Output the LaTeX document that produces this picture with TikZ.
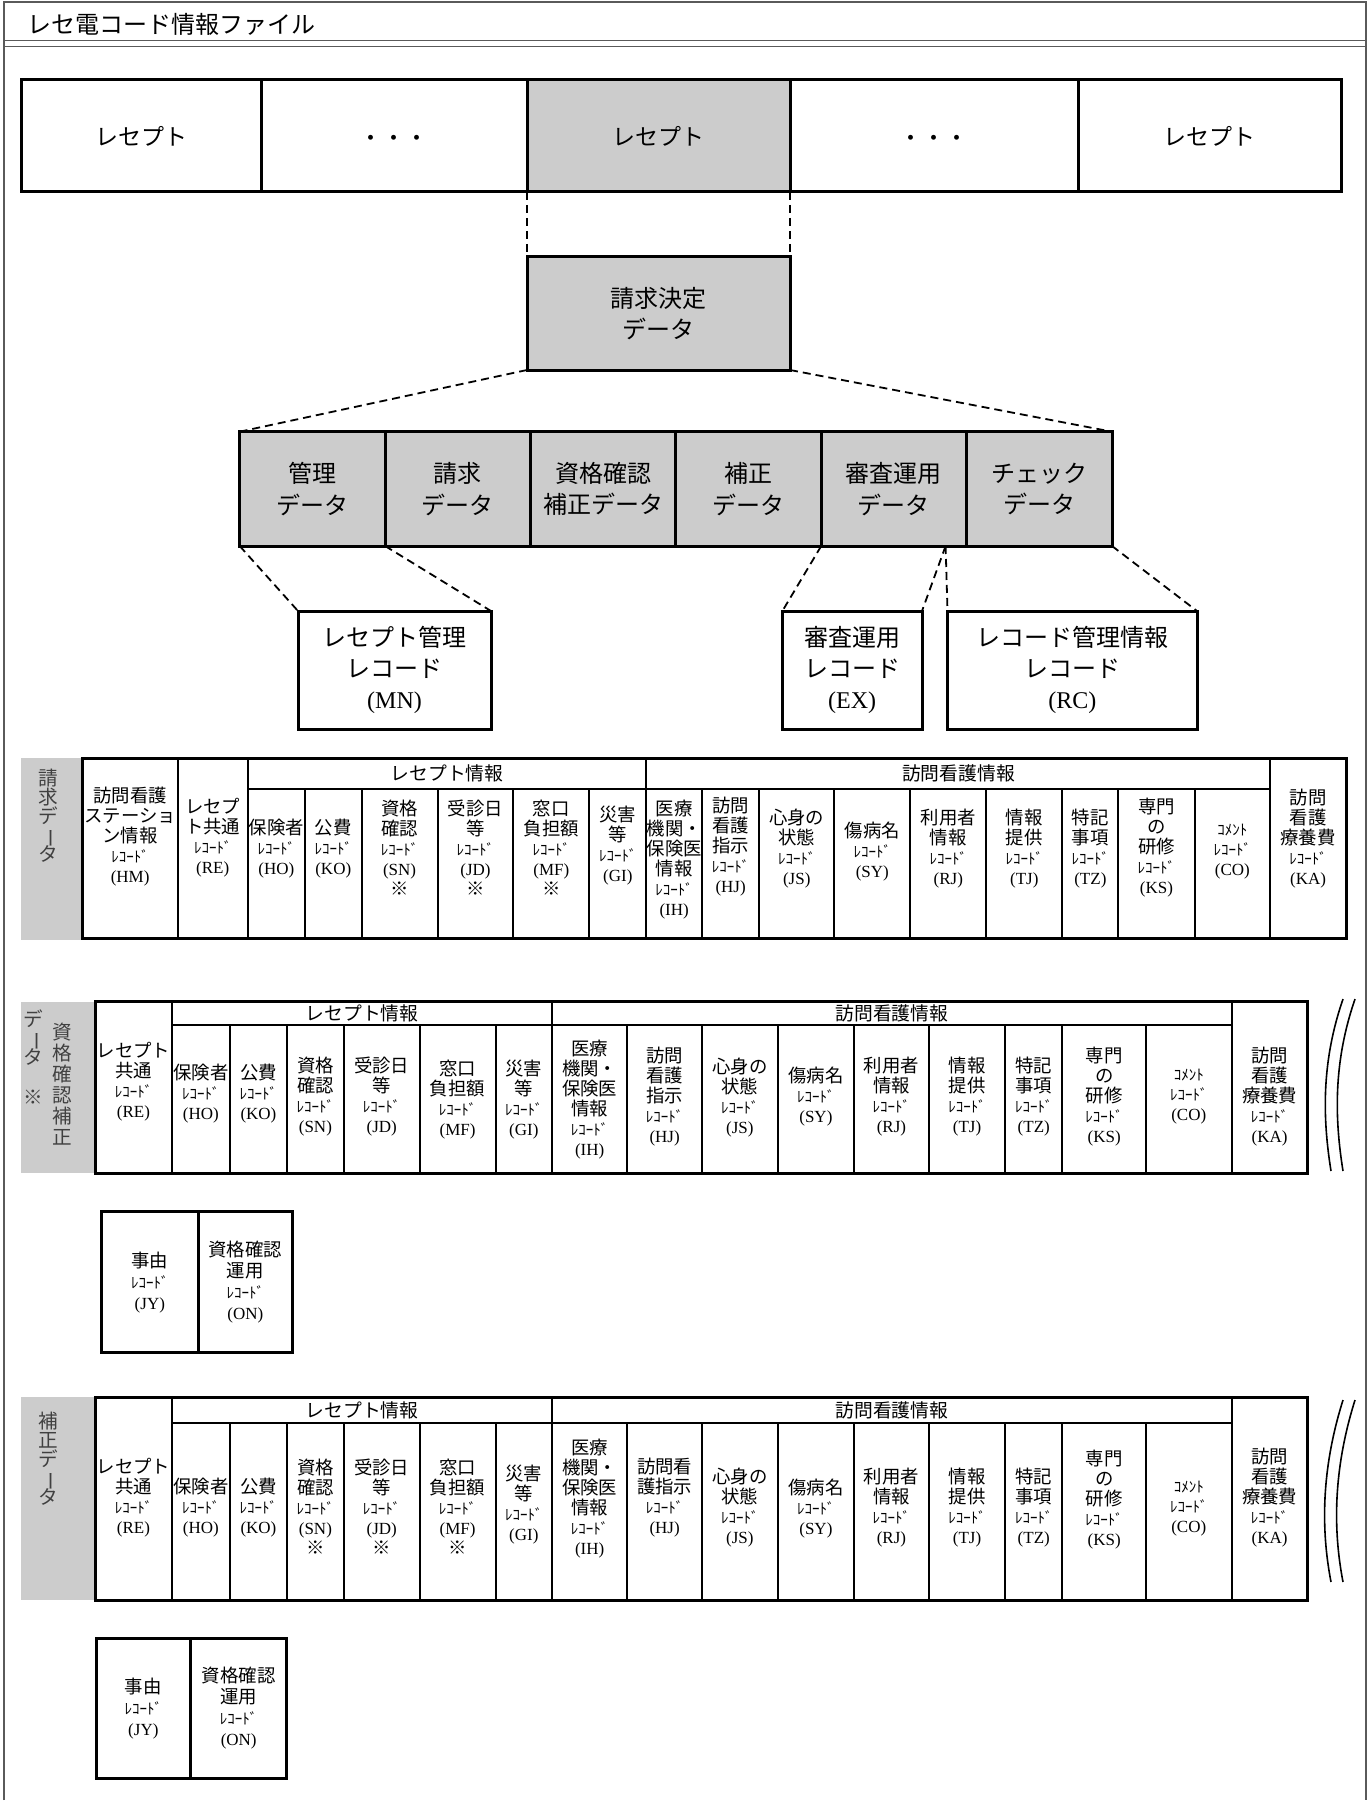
\documentclass[tikz,border=0pt]{standalone}
\usepackage{fontspec}
\setmainfont{Noto Sans CJK JP}
\newfontfamily\codefont{Liberation Serif}
\definecolor{boxgray}{HTML}{CCCCCC}
\definecolor{framegray}{HTML}{5A5A5A}
\newcommand{\reco}{{\fontsize{7.5}{10}\selectfont ﾚｺｰﾄﾞ}}
\newcommand{\codeid}[1]{{\codefont\fontsize{8.5}{10}\selectfont (#1)}}
\newcommand{\tatebar}{\rotatebox[origin=c]{-90}{ー}}
\newcommand{\tightlines}{\lineskiplimit=-5pt\lineskip=0pt}
\tikzstyle{every node}=[inner sep=0pt, outer sep=0pt]
\tikzstyle{frame}=[draw=framegray, line width=1.2pt]
\tikzstyle{box}=[draw, line width=1.5pt, align=center, font=\fontsize{12}{15.5}\selectfont]
\tikzstyle{rcpt}=[box, minimum height=56pt, font=\fontsize{11.5}{14}\selectfont]
\tikzstyle{part}=[box, fill=boxgray, minimum width=72.7pt, minimum height=57.15pt, font=\fontsize{12}{15.8}\selectfont]
\tikzstyle{rec}=[box, minimum height=59pt]
\tikzstyle{small}=[draw, line width=1.5pt, align=center, font=\fontsize{9.2}{10.5}\selectfont]
\tikzstyle{cell}=[align=center, font=\fontsize{9.2}{10}\selectfont]
\tikzstyle{head}=[font=\fontsize{9.4}{10}\selectfont]
\tikzstyle{side}=[align=center, text=black!75, font=\fontsize{9.8}{9.5}\selectfont\tightlines]
\tikzstyle{link}=[dash pattern=on 4pt off 2.5pt, line width=0.9pt]
\tikzstyle{grid}=[line width=1pt]
\tikzstyle{border}=[line width=1.5pt]
\tikzstyle{wave}=[line width=0.8pt]

\begin{document}
\begin{tikzpicture}[x=0.5pt, y=-0.5pt, line width=1pt]
\useasboundingbox (0,0) rectangle (1371,1803);
% Frame
    \draw[frame] (4,1800) -- (4,2) -- (1366,2) -- (1366,1800);
    \draw[frame, line width=0.8pt] (4,40.7) -- (1366,40.7);
    \draw[frame, line width=0.8pt] (4,46.7) -- (1366,46.7);
    \node[anchor=west, font=\fontsize{12}{14}\selectfont] (title) at (27,24) {レセ電コード情報ファイル};
% Receipts
    \node[rcpt, minimum width=119.8pt] (r1) at (141.2,136) {レセプト};
    \node[rcpt, minimum width=133pt] (r2) at (394,136) {};
    \node[rcpt, minimum width=131.5pt, fill=boxgray] (r3) at (658.5,136) {レセプト};
    \node[rcpt, minimum width=144pt] (r4) at (934,136) {};
    \node[rcpt, minimum width=131.5pt] (r5) at (1209.5,136) {レセプト};
    \node[font=\fontsize{11.5}{14}\selectfont] (dots2) at (394,141) {・・・};
    \node[font=\fontsize{11.5}{14}\selectfont] (dots4) at (934,141) {・・・};
% Claim decision data
    \node[box, fill=boxgray, minimum width=131.5pt, minimum height=56.7pt] (kettei) at (658.5,313.3) {請求決定\\データ};
    \draw[link] (r3.south west) -- (kettei.north west);
    \draw[link] (r3.south east) -- (kettei.north east);
% Parts
    \node[part] (d1) at (312.4,488.85) {管理\\データ};
    \node[part] (d2) at (457.8,488.85) {請求\\データ};
    \node[part] (d3) at (603.2,488.85) {資格確認\\補正データ};
    \node[part] (d4) at (748.5,488.85) {補正\\データ};
    \node[part] (d5) at (893.9,488.85) {審査運用\\データ};
    \node[part] (d6) at (1039.3,488.85) {チェック\\データ};
    \draw[link] (kettei.south west) -- (d1.north west);
    \draw[link] (kettei.south east) -- (d6.north east);
% Records
    \node[rec, minimum width=96.5pt] (mn) at (394.5,670) {レセプト管理\\レコード\\{\codefont (MN)}};
    \node[rec, minimum width=69.8pt] (ex) at (852.2,670) {審査運用\\レコード\\{\codefont (EX)}};
    \node[rec, minimum width=124.75pt] (rc) at (1072.25,670) {レコード管理情報\\レコード\\{\codefont (RC)}};
    \coordinate (split) at (945.6,546);
    \draw[link] (d1.south west) -- (mn.north west);
    \draw[link] (d1.south east) -- (mn.north east);
    \draw[link] (d5.south west) -- (ex.north west);
    \draw[link] (split) -- (ex.north east);
    \draw[link] (split) -- (rc.north west);
    \draw[link] (d6.south east) -- (rc.north east);
% Claim data table
    \fill[boxgray] (21,758) rectangle (82.6,940);
    \node[side] (lab1) at (48,816) {請\\求\\デ\\\tatebar\\タ};
    \draw[grid] (247.8,789) -- (1270.3,789);
    \draw[grid] (177.7,758) -- (177.7,938);
    \draw[grid] (247.8,758) -- (247.8,938);
    \draw[grid] (304.9,789) -- (304.9,938);
    \draw[grid] (361.6,789) -- (361.6,938);
    \draw[grid] (437.5,789) -- (437.5,938);
    \draw[grid] (513.4,789) -- (513.4,938);
    \draw[grid] (589.3,789) -- (589.3,938);
    \draw[grid] (646.4,758) -- (646.4,938);
    \draw[grid] (702,789) -- (702,938);
    \draw[grid] (759.3,789) -- (759.3,938);
    \draw[grid] (834.2,789) -- (834.2,938);
    \draw[grid] (910.4,789) -- (910.4,938);
    \draw[grid] (986.2,789) -- (986.2,938);
    \draw[grid] (1062.4,789) -- (1062.4,938);
    \draw[grid] (1118.3,789) -- (1118.3,938);
    \draw[grid] (1194.5,789) -- (1194.5,938);
    \draw[grid] (1270.3,758) -- (1270.3,938);
    \draw[border] (82.6,758) rectangle (1346,938);
    \node[head] (sRI) at (447.1,773.5) {レセプト情報};
    \node[head] (sHI) at (958.4,773.5) {訪問看護情報};
    \node[cell] (sHM) at (130.15,837) {訪問看護\\ステーショ\\ン情報\\\reco\\\codeid{HM}};
    \node[cell] (sRE) at (212.75,838) {レセプ\\ト共通\\\reco\\\codeid{RE}};
    \node[cell] (sHO) at (276.35,849) {保険者\\\reco\\\codeid{HO}};
    \node[cell] (sKO) at (333.25,849) {公費\\\reco\\\codeid{KO}};
    \node[cell] (sSN) at (399.55,848) {資格\\確認\\\reco\\\codeid{SN}\\※};
    \node[cell] (sJD) at (475.45,848) {受診日\\等\\\reco\\\codeid{JD}\\※};
    \node[cell] (sMF) at (551.35,848) {窓口\\負担額\\\reco\\\codeid{MF}\\※};
    \node[cell] (sGI) at (617.85,846) {災害\\等\\\reco\\\codeid{GI}};
    \node[cell] (sIH) at (674.2,860) {医療\\機関・\\保険医\\情報\\\reco\\\codeid{IH}};
    \node[cell] (sHJ) at (730.65,847) {訪問\\看護\\指示\\\reco\\\codeid{HJ}};
    \node[cell] (sJS) at (796.75,849) {心身の\\状態\\\reco\\\codeid{JS}};
    \node[cell] (sSY) at (872.3,852) {傷病名\\\reco\\\codeid{SY}};
    \node[cell] (sRJ) at (948.3,849) {利用者\\情報\\\reco\\\codeid{RJ}};
    \node[cell] (sTJ) at (1024.3,849) {情報\\提供\\\reco\\\codeid{TJ}};
    \node[cell] (sTZ) at (1090.35,849) {特記\\事項\\\reco\\\codeid{TZ}};
    \node[cell] (sKS) at (1156.4,848) {専門\\の\\研修\\\reco\\\codeid{KS}};
    \node[cell] (sCO) at (1232.4,852) {{\fontsize{7.5}{10}\selectfont ｺﾒﾝﾄ}\\\reco\\\codeid{CO}};
    \node[cell] (sKA) at (1308.15,839) {訪問\\看護\\療養費\\\reco\\\codeid{KA}};
% Eligibility correction table
    \fill[boxgray] (21,1001.7) rectangle (95.1,1173.3);
    \node[side, font=\fontsize{9.8}{10.5}\selectfont\tightlines] (lab2a) at (62.5,1084) {資\\格\\確\\認\\補\\正};
    \node[side] (lab2b) at (33.5,1038) {デ\\\tatebar\\タ};
    \node[side] (lab2c) at (33.5,1097) {※};
    \draw[grid] (171.9,1025) -- (1231.5,1025);
    \draw[grid] (171.9,1001.7) -- (171.9,1173.3);
    \draw[grid] (229.9,1025) -- (229.9,1173.3);
    \draw[grid] (287,1025) -- (287,1173.3);
    \draw[grid] (343.8,1025) -- (343.8,1173.3);
    \draw[grid] (419.6,1025) -- (419.6,1173.3);
    \draw[grid] (495.5,1025) -- (495.5,1173.3);
    \draw[grid] (552.2,1001.7) -- (552.2,1173.3);
    \draw[grid] (627.2,1025) -- (627.2,1173.3);
    \draw[grid] (702,1025) -- (702,1173.3);
    \draw[grid] (777.8,1025) -- (777.8,1173.3);
    \draw[grid] (854,1025) -- (854,1173.3);
    \draw[grid] (928.9,1025) -- (928.9,1173.3);
    \draw[grid] (1005.1,1025) -- (1005.1,1173.3);
    \draw[grid] (1062.4,1025) -- (1062.4,1173.3);
    \draw[grid] (1146,1025) -- (1146,1173.3);
    \draw[grid] (1231.5,1001.7) -- (1231.5,1173.3);
    \draw[border] (95.1,1001.7) rectangle (1307.8,1173.3);
    \node[head] (qRI) at (362,1013.4) {レセプト情報};
    \node[head] (qHI) at (891.9,1013.4) {訪問看護情報};
    \node[cell] (qRE) at (133.5,1082) {レセプト\\共通\\\reco\\\codeid{RE}};
    \node[cell] (qHO) at (200.9,1094) {保険者\\\reco\\\codeid{HO}};
    \node[cell] (qKO) at (258.45,1094) {公費\\\reco\\\codeid{KO}};
    \node[cell] (qSN) at (315.4,1097) {資格\\確認\\\reco\\\codeid{SN}};
    \node[cell] (qJD) at (381.7,1097) {受診日\\等\\\reco\\\codeid{JD}};
    \node[cell] (qMF) at (457.55,1100) {窓口\\負担額\\\reco\\\codeid{MF}};
    \node[cell] (qGI) at (523.85,1100) {災害\\等\\\reco\\\codeid{GI}};
    \node[cell] (qIH) at (589.7,1100) {医療\\機関・\\保険医\\情報\\\reco\\\codeid{IH}};
    \node[cell] (qHJ) at (664.6,1097) {訪問\\看護\\指示\\\reco\\\codeid{HJ}};
    \node[cell] (qJS) at (739.9,1098) {心身の\\状態\\\reco\\\codeid{JS}};
    \node[cell] (qSY) at (815.9,1097) {傷病名\\\reco\\\codeid{SY}};
    \node[cell] (qRJ) at (891.45,1097) {利用者\\情報\\\reco\\\codeid{RJ}};
    \node[cell] (qTJ) at (967,1097) {情報\\提供\\\reco\\\codeid{TJ}};
    \node[cell] (qTZ) at (1033.75,1097) {特記\\事項\\\reco\\\codeid{TZ}};
    \node[cell] (qKS) at (1104.2,1097) {専門\\の\\研修\\\reco\\\codeid{KS}};
    \node[cell] (qCO) at (1188.75,1097) {{\fontsize{7.5}{10}\selectfont ｺﾒﾝﾄ}\\\reco\\\codeid{CO}};
    \node[cell] (qKA) at (1269.65,1097) {訪問\\看護\\療養費\\\reco\\\codeid{KA}};
    \draw[wave] (1343,999) .. controls (1322,1060) and (1322,1115) .. (1331,1171);
    \draw[wave] (1355,999) .. controls (1334,1060) and (1334,1115) .. (1343,1171);
    \node[small, minimum width=48.15pt, minimum height=70.5pt] (jy1) at (149.85,1282.2) {事由\\\reco\\\codeid{JY}};
    \node[small, minimum width=47.35pt, minimum height=70.5pt] (on1) at (245.35,1282.2) {資格確認\\運用\\\reco\\\codeid{ON}};
% Correction table
    \fill[boxgray] (21,1397.3) rectangle (95.1,1600);
    \node[side] (lab3) at (48,1459) {補\\正\\デ\\\tatebar\\タ};
    \draw[grid] (171.9,1423.3) -- (1231.5,1423.3);
    \draw[grid] (171.9,1397.3) -- (171.9,1600);
    \draw[grid] (229.9,1423.3) -- (229.9,1600);
    \draw[grid] (287,1423.3) -- (287,1600);
    \draw[grid] (343.8,1423.3) -- (343.8,1600);
    \draw[grid] (419.6,1423.3) -- (419.6,1600);
    \draw[grid] (495.5,1423.3) -- (495.5,1600);
    \draw[grid] (552.2,1397.3) -- (552.2,1600);
    \draw[grid] (627.2,1423.3) -- (627.2,1600);
    \draw[grid] (702,1423.3) -- (702,1600);
    \draw[grid] (777.8,1423.3) -- (777.8,1600);
    \draw[grid] (854,1423.3) -- (854,1600);
    \draw[grid] (928.9,1423.3) -- (928.9,1600);
    \draw[grid] (1005.1,1423.3) -- (1005.1,1600);
    \draw[grid] (1062.4,1423.3) -- (1062.4,1600);
    \draw[grid] (1146,1423.3) -- (1146,1600);
    \draw[grid] (1231.5,1397.3) -- (1231.5,1600);
    \draw[border] (95.1,1397.3) rectangle (1307.8,1600);
    \node[head] (hRI) at (362,1410.3) {レセプト情報};
    \node[head] (hHI) at (891.9,1410.3) {訪問看護情報};
    \node[cell] (hRE) at (133.5,1498) {レセプト\\共通\\\reco\\\codeid{RE}};
    \node[cell] (hHO) at (200.9,1508) {保険者\\\reco\\\codeid{HO}};
    \node[cell] (hKO) at (258.45,1508) {公費\\\reco\\\codeid{KO}};
    \node[cell] (hSN) at (315.4,1507) {資格\\確認\\\reco\\\codeid{SN}\\※};
    \node[cell] (hJD) at (381.7,1507) {受診日\\等\\\reco\\\codeid{JD}\\※};
    \node[cell] (hMF) at (457.55,1507) {窓口\\負担額\\\reco\\\codeid{MF}\\※};
    \node[cell] (hGI) at (523.85,1505) {災害\\等\\\reco\\\codeid{GI}};
    \node[cell] (hIH) at (589.7,1499) {医療\\機関・\\保険医\\情報\\\reco\\\codeid{IH}};
    \node[cell] (hHJ) at (664.6,1498) {訪問看\\護指示\\\reco\\\codeid{HJ}};
    \node[cell] (hJS) at (739.9,1508) {心身の\\状態\\\reco\\\codeid{JS}};
    \node[cell] (hSY) at (815.9,1509) {傷病名\\\reco\\\codeid{SY}};
    \node[cell] (hRJ) at (891.45,1508) {利用者\\情報\\\reco\\\codeid{RJ}};
    \node[cell] (hTJ) at (967,1508) {情報\\提供\\\reco\\\codeid{TJ}};
    \node[cell] (hTZ) at (1033.75,1508) {特記\\事項\\\reco\\\codeid{TZ}};
    \node[cell] (hKS) at (1104.2,1500) {専門\\の\\研修\\\reco\\\codeid{KS}};
    \node[cell] (hCO) at (1188.75,1509) {{\fontsize{7.5}{10}\selectfont ｺﾒﾝﾄ}\\\reco\\\codeid{CO}};
    \node[cell] (hKA) at (1269.65,1498) {訪問\\看護\\療養費\\\reco\\\codeid{KA}};
    \draw[wave] (1343,1400) .. controls (1321,1470) and (1321,1530) .. (1331,1582);
    \draw[wave] (1355,1400) .. controls (1333,1470) and (1333,1530) .. (1343,1582);
    \node[small, minimum width=47.35pt, minimum height=70pt] (jy2) at (143.35,1708.3) {事由\\\reco\\\codeid{JY}};
    \node[small, minimum width=48pt, minimum height=70pt] (on2) at (238.7,1708.3) {資格確認\\運用\\\reco\\\codeid{ON}};
\end{tikzpicture}
\end{document}
